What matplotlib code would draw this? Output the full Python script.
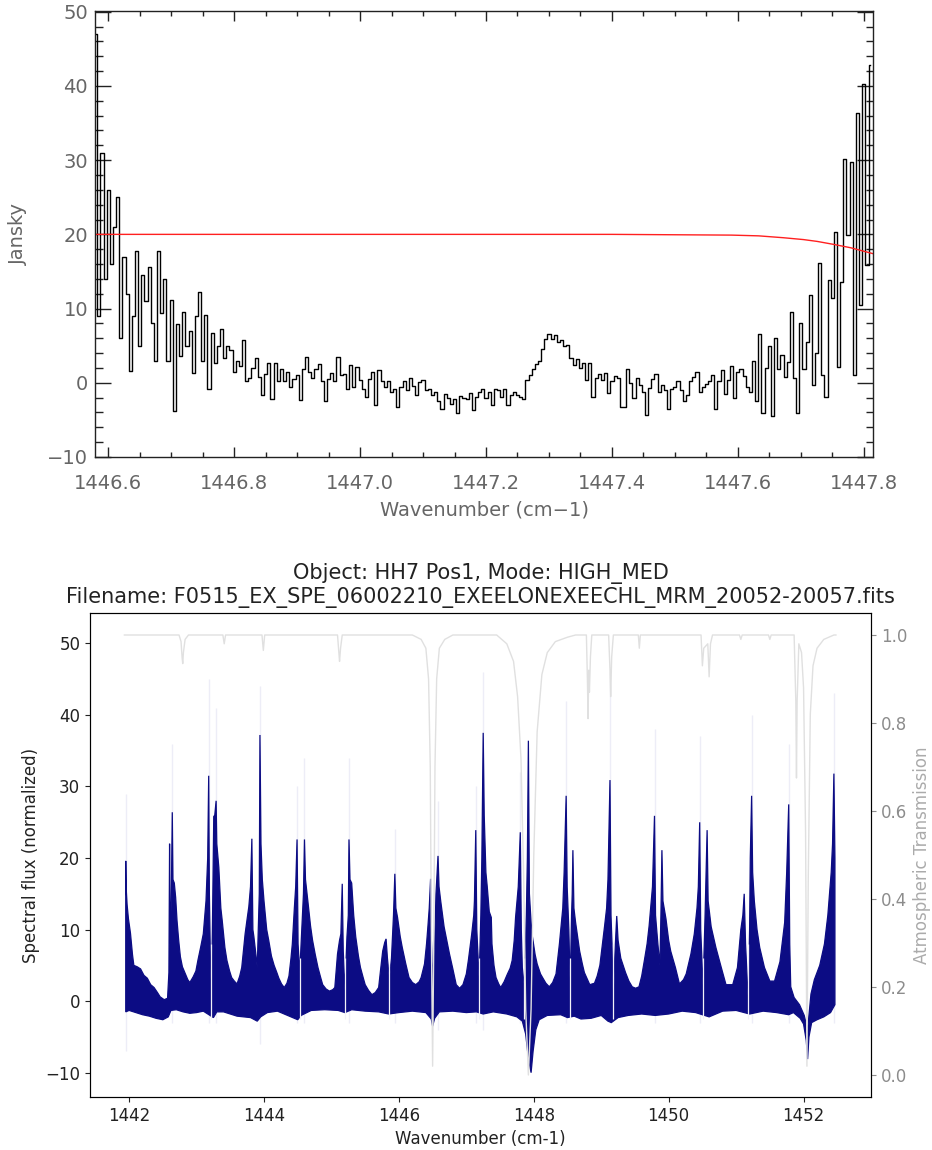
import numpy as np
import matplotlib
matplotlib.use("Agg")
import matplotlib.pyplot as plt
from matplotlib.ticker import MultipleLocator, FormatStrFormatter

# ---------------- upper panel: EXES spectrum (Jansky) ----------------
TOP_WN0 = 1446.580      # first channel (cm-1)
TOP_STEP = 0.005        # channel width (cm-1)
top_flux = [
    47, 9, 31, 14, 26, 16, 21, 25, 6, 17,
    12, 1.6, 9, 17.7, 5, 14.5, 11, 15.6, 8, 3,
    17.7, 9.4, 14, 3, 11.2, -3.8, 7.9, 3.6, 9.6, 5,
    7, 1.3, 9, 12.3, 3, 9.2, -0.9, 6.7, 2.6, 5,
    7.2, 3.3, 5.0, 4.4, 1.5, 3.0, 2.2, 5.7, 0.3, 0.6,
    2.0, 3.3, 0.8, -1.7, 1.2, 2.6, -2.2, 2.6, 0.3, 1.8,
    0.2, 1.4, -0.6, 0.5, 1.0, -2.3, 1.8, 3.5, 1.5, 0.6,
    1.9, 2.5, 0.2, -2.4, 0.5, 1.3, 0.2, 3.5, 1.0, 1.2,
    -0.8, 2.4, -0.5, 2.1, 0.4, -0.8, -1.9, 0.5, 1.5, -3.0,
    1.7, 0.3, -0.6, 0.2, -1.2, -0.8, -3.2, -0.6, 0.3, -1.0,
    0.6, -0.4, -1.7, 0.1, 0.4, -1.0, -0.9, -1.6, -1.2, -2.5,
    -3.5, -1.5, -2.0, -2.8, -2.2, -4.1, -1.8, -2.0, -2.2, -1.4,
    -3.7, -1.9, -1.2, -0.9, -2.0, -1.3, -3.0, -0.8, -1.0, -1.9,
    -0.9, -3.0, -1.7, -1.3, -1.6, -1.9, -2.2, 0.4, 1.1, 1.9,
    2.5, 3.0, 4.5, 5.9, 6.6, 5.9, 6.4, 5.5, 5.8, 4.9,
    5.1, 3.3, 2.4, 3.2, 2.0, 2.6, 0.4, 2.6, -1.9, 0.6,
    1.2, 0.4, 1.3, -1.4, 0.3, 0.9, 0.7, -3.2, -3.3, 1.9,
    0.0, -2.1, 0.6, -0.3, -1.2, -4.3, -0.7, 0.5, 1.2, -1.2,
    -0.3, -1.0, -3.5, -0.8, -0.5, 0.3, -1.0, -2.5, -1.6, 0.2,
    0.8, 1.5, -1.2, -0.6, -0.2, 0.3, 1.0, -3.5, 0.2, 1.7,
    -1.5, 0.4, 2.2, -2.0, 1.5, 1.9, 0.9, -0.5, -1.2, 2.9,
    -2.5, 6.6, -4.1, 2.0, 5.0, -4.5, 6.1, 1.9, 3.7, 0.8,
    2.8, 9.6, 0.7, -4.1, 8.0, 1.9, 5.5, 11.8, -0.3, 4.0,
    16.1, 1.0, -1.9, 13.9, 11.4, 20.3, 2.1, 13.6, 30.2, 19.9,
    29.8, 1.0, 36.3, 10.5, 40.3, 15.9, 42.8,
]

# continuum model (red curve)
model_wn = [1446.579, 1447.000, 1447.400, 1447.590, 1447.633, 1447.672,
            1447.704, 1447.726, 1447.752, 1447.779, 1447.8146]
model_flux = [20.0, 20.0, 20.0, 19.9, 19.8, 19.55, 19.3, 19.05, 18.65, 18.2, 17.4]

# ---------------- lower panel: normalized flux + transmission ----------------
# upper edge of the plotted flux band (cm-1, normalized flux)
band_top_wn = [
    1441.950, 1441.955, 1441.970, 1441.990, 1442.020, 1442.050, 1442.070, 1442.120,
    1442.170, 1442.220, 1442.270, 1442.320, 1442.370, 1442.420, 1442.460, 1442.520,
    1442.570, 1442.590, 1442.600, 1442.610, 1442.625, 1442.640, 1442.650, 1442.670,
    1442.690, 1442.710, 1442.735, 1442.760, 1442.790, 1442.830, 1442.870, 1442.900,
    1442.950, 1442.990, 1443.020, 1443.060, 1443.100, 1443.140, 1443.165, 1443.180,
    1443.190, 1443.205, 1443.220, 1443.235, 1443.255, 1443.270, 1443.290, 1443.300,
    1443.330, 1443.360, 1443.380, 1443.420, 1443.450, 1443.490, 1443.520, 1443.560,
    1443.600, 1443.640, 1443.670, 1443.700, 1443.720, 1443.750, 1443.775, 1443.800,
    1443.820, 1443.835, 1443.850, 1443.880, 1443.900, 1443.915, 1443.930, 1443.940,
    1443.955, 1443.975, 1444.000, 1444.040, 1444.070, 1444.110, 1444.150, 1444.190,
    1444.220, 1444.260, 1444.300, 1444.340, 1444.370, 1444.400, 1444.420, 1444.450,
    1444.470, 1444.490, 1444.505, 1444.530, 1444.560, 1444.585, 1444.600, 1444.615,
    1444.650, 1444.690, 1444.720, 1444.760, 1444.800, 1444.840, 1444.870, 1444.920,
    1444.970, 1445.020, 1445.050, 1445.090, 1445.120, 1445.140, 1445.160, 1445.175,
    1445.200, 1445.230, 1445.250, 1445.260, 1445.275, 1445.300, 1445.330, 1445.360,
    1445.400, 1445.430, 1445.470, 1445.500, 1445.550, 1445.600, 1445.650, 1445.700,
    1445.730, 1445.760, 1445.790, 1445.810, 1445.830, 1445.860, 1445.890, 1445.920,
    1445.940, 1445.955, 1445.980, 1446.020, 1446.050, 1446.100, 1446.150, 1446.200,
    1446.250, 1446.300, 1446.330, 1446.380, 1446.410, 1446.430, 1446.450, 1446.470,
    1446.480, 1446.500, 1446.530, 1446.550, 1446.580, 1446.595, 1446.620, 1446.670,
    1446.710, 1446.750, 1446.800, 1446.850, 1446.900, 1446.950, 1447.000, 1447.030,
    1447.080, 1447.110, 1447.120, 1447.140, 1447.155, 1447.190, 1447.215, 1447.230,
    1447.250, 1447.265, 1447.290, 1447.310, 1447.340, 1447.370, 1447.380, 1447.410,
    1447.440, 1447.480, 1447.510, 1447.560, 1447.610, 1447.650, 1447.680, 1447.710,
    1447.730, 1447.770, 1447.800, 1447.815, 1447.830, 1447.860, 1447.890, 1447.905,
    1447.920, 1447.935, 1447.960, 1447.980, 1448.020, 1448.050, 1448.100, 1448.130,
    1448.180, 1448.230, 1448.280, 1448.330, 1448.380, 1448.430, 1448.450, 1448.480,
    1448.495, 1448.520, 1448.540, 1448.560, 1448.570, 1448.580, 1448.595, 1448.620,
    1448.680, 1448.720, 1448.750, 1448.830, 1448.900, 1448.940, 1448.980, 1449.050,
    1449.080, 1449.100, 1449.130, 1449.145, 1449.160, 1449.180, 1449.200, 1449.210,
    1449.230, 1449.250, 1449.290, 1449.360, 1449.410, 1449.460, 1449.510, 1449.560,
    1449.600, 1449.640, 1449.680, 1449.710, 1449.760, 1449.790, 1449.805, 1449.840,
    1449.870, 1449.885, 1449.900, 1449.915, 1449.960, 1450.000, 1450.030, 1450.100,
    1450.160, 1450.220, 1450.260, 1450.330, 1450.380, 1450.420, 1450.440, 1450.460,
    1450.475, 1450.510, 1450.540, 1450.555, 1450.570, 1450.585, 1450.630, 1450.700,
    1450.780, 1450.850, 1450.950, 1451.020, 1451.070, 1451.100, 1451.120, 1451.140,
    1451.180, 1451.200, 1451.210, 1451.230, 1451.245, 1451.270, 1451.310, 1451.350,
    1451.420, 1451.500, 1451.570, 1451.650, 1451.720, 1451.750, 1451.780, 1451.795,
    1451.810, 1451.860, 1451.940, 1452.010, 1452.060, 1452.110, 1452.160, 1452.240,
    1452.310, 1452.360, 1452.410, 1452.430, 1452.450, 1452.465,
]
band_top = [
    19.6, 16, 13.5, 11.5, 9.5, 6.5, 5.0, 4.8,
    4.5, 3.6, 3.2, 2.3, 1.9, 1.2, 0.6, 0.2,
    0.4, 4, 22.0, 8, 14, 26.4, 17, 16.5,
    14.5, 11.3, 8.5, 6.2, 4.8, 3.9, 3.0, 2.6,
    3.4, 4.2, 5.7, 7.5, 9.4, 14, 20, 31.5,
    15, 6, 1.0, 10, 25.8, 26, 28, 22,
    18.7, 13, 11.3, 7.5, 5.7, 4.2, 3.3, 2.8,
    2.4, 3.5, 4.7, 7.5, 9.4, 11.5, 13.2, 16,
    22.7, 10, 9, 6.5, 4.7, 10, 15, 37.2,
    22, 17, 14, 10, 8.5, 6.3, 5, 4,
    3.2, 2.4, 1.9, 2.5, 3.5, 6, 8, 13,
    16, 22.6, 8, 4, 10, 15, 22.6, 17,
    14, 10.5, 8.5, 6.5, 4.7, 3.3, 2.3, 1.7,
    1.4, 1.6, 1.9, 6.6, 8.5, 9.4, 16.4, 7,
    1.5, 9, 12, 22.6, 17, 16.5, 12, 9,
    6.3, 4.7, 3.3, 2.3, 1.5, 0.9, 1.2, 1.9,
    4.5, 7, 8.2, 8.7, 6, 3, 6, 12,
    17.8, 13, 11.7, 9, 7.5, 5.3, 3.3, 2.6,
    2.3, 2.7, 3.3, 5.2, 8, 10.4, 13, 17.1,
    9, 3, 8, 15, 20.3, 16, 14, 10.4,
    8.5, 6.6, 4.5, 2.3, 1.8, 2.3, 3.8, 5.7,
    9.4, 12, 14, 23.9, 10, 3, 12, 20,
    37.5, 26, 18, 16, 12.5, 11.7, 8, 5,
    3.3, 2.4, 1.9, 2.7, 3.8, 4.6, 5.7, 8.5,
    11.7, 16, 23.6, 10, 4.7, 2, 12, 20,
    36.4, 15, 11, 9, 6.5, 5.2, 3.8, 3.3,
    2.5, 2.0, 2.6, 3.8, 8, 13, 18, 28.7,
    16, 10, 2, 12, 15, 21.1, 13, 11,
    7, 5.2, 4, 2.3, 2.5, 3.5, 5, 10.5,
    13, 17, 30.9, 12, 8, -1, 6, 8,
    11.9, 8.5, 6, 4, 2.8, 2, 1.8, 2,
    3.5, 5.7, 8, 10.5, 16, 25.9, 12, 8,
    5, 12, 21.1, 14, 11.5, 8.5, 7, 4.7,
    2.4, 3, 3.8, 6.6, 9.4, 13, 16, 25.0,
    10, 2, 12, 18, 23.9, 14, 10.4, 7.5,
    4.7, 2.3, 2.3, 4.7, 10, 12, 15.0, 8,
    0, 10, 20, 28.7, 18, 14, 10, 7.5,
    4.7, 2.8, 2.8, 5.5, 11, 18, 27.5, 8,
    2, 0.5, -0.5, -2, -4, 1, 3, 5,
    8, 12, 18, 22, 31.8, 20,
]

# lower edge of the plotted flux band
band_bot_wn = [
    1441.950, 1442.000, 1442.100, 1442.200, 1442.300, 1442.400, 1442.500, 1442.580,
    1442.620, 1442.700, 1442.800, 1442.900, 1443.000, 1443.100, 1443.200, 1443.250,
    1443.300, 1443.400, 1443.500, 1443.600, 1443.700, 1443.800, 1443.900, 1443.950,
    1444.050, 1444.200, 1444.300, 1444.400, 1444.500, 1444.550, 1444.700, 1444.900,
    1445.100, 1445.200, 1445.300, 1445.500, 1445.700, 1445.850, 1446.000, 1446.200,
    1446.400, 1446.480, 1446.500, 1446.530, 1446.600, 1446.800, 1447.000, 1447.150,
    1447.250, 1447.400, 1447.600, 1447.750, 1447.830, 1447.880, 1447.920, 1447.960,
    1447.990, 1448.030, 1448.080, 1448.200, 1448.400, 1448.500, 1448.600, 1448.700,
    1448.850, 1449.000, 1449.100, 1449.150, 1449.250, 1449.400, 1449.600, 1449.800,
    1450.000, 1450.200, 1450.400, 1450.600, 1450.800, 1451.000, 1451.200, 1451.400,
    1451.600, 1451.780, 1451.850, 1451.950, 1452.000, 1452.040, 1452.060, 1452.080,
    1452.120, 1452.200, 1452.300, 1452.400, 1452.465,
]
band_bot = [
    -1.5, -1.3, -1.6, -1.9, -2.1, -2.4, -2.6, -2.2,
    -1.3, -1.2, -1.5, -1.7, -1.6, -1.4, -2.0, -2.3,
    -1.5, -1.5, -1.8, -2.1, -2.2, -2.3, -2.8, -2.2,
    -1.6, -1.4, -1.8, -2.2, -2.6, -2.0, -1.3, -1.2,
    -1.3, -1.6, -1.2, -1.4, -1.5, -1.8, -1.6, -1.4,
    -1.6, -2.5, -3.5, -2.4, -1.5, -1.4, -1.6, -1.5,
    -1.8, -1.5, -1.8, -2.2, -2.8, -4.6, -8.0, -10.0,
    -7.0, -4.0, -2.6, -2.0, -1.9, -2.3, -2.1, -2.5,
    -2.4, -2.0, -2.8, -3.0, -2.3, -2.0, -1.8, -2.0,
    -1.8, -1.4, -1.6, -2.2, -1.4, -1.3, -1.8, -1.4,
    -1.6, -1.9, -1.6, -2.4, -3.2, -5.5, -8.1, -5.0,
    -3.0, -2.6, -2.2, -1.6, -0.5,
]

# channels masked in the flux band
gap_wn = [1443.22, 1444.53, 1445.20, 1445.86, 1447.19, 1447.86, 1448.54,
          1449.18, 1450.51, 1451.18]
gap_hi = [8, 6, 6, 5, 6, 6, 6, 8, 6, 8]

# unmasked extremes around the line cores (faint trace)
faint_wn = [1441.95, 1442.64, 1443.18, 1443.29, 1443.94, 1444.49, 1444.60,
            1445.26, 1445.94, 1446.58, 1447.14, 1447.25, 1447.80, 1448.48,
            1449.13, 1449.79, 1450.46, 1451.23, 1451.78, 1452.45]
faint_hi = [29, 36, 45, 41, 44, 30, 34, 34, 24, 28, 30, 46, 32, 42, 46, 38, 37, 40, 36, 43]
faint_lo = [-7, -3, -3, -3, -6, -3, -3, -3, -3, -4, -3, -4, -3, -3, -3, -3, -3, -3, -3, -3]

# atmospheric transmission model
trans_wn = [
    1441.93, 1442.74, 1442.77, 1442.785, 1442.795, 1442.805, 1442.83, 1442.88,
    1443.39, 1443.41, 1443.43, 1443.97, 1443.99, 1444.01, 1445.09, 1445.11,
    1445.12, 1445.135, 1445.16, 1446.20, 1446.33, 1446.40, 1446.44, 1446.465,
    1446.48, 1446.50, 1446.52, 1446.535, 1446.56, 1446.60, 1446.68, 1446.80,
    1447.45, 1447.60, 1447.70, 1447.76, 1447.81, 1447.85, 1447.88, 1447.92,
    1447.96, 1448.00, 1448.05, 1448.12, 1448.20, 1448.32, 1448.50, 1448.62,
    1448.78, 1448.795, 1448.805, 1448.815, 1448.825, 1448.84, 1448.86, 1449.11,
    1449.13, 1449.14, 1449.155, 1449.18, 1449.55, 1449.565, 1449.58, 1450.48,
    1450.50, 1450.52, 1450.58, 1450.60, 1450.62, 1450.65, 1451.05, 1451.07,
    1451.09, 1451.48, 1451.50, 1451.52, 1451.86, 1451.885, 1451.895, 1451.905,
    1451.93, 1451.97, 1452.00, 1452.03, 1452.05, 1452.07, 1452.10, 1452.14,
    1452.20, 1452.30, 1452.45, 1452.48,
]
trans_val = [
    1.0, 1.0, 0.985, 0.95, 0.935, 0.96, 0.99, 1.0,
    1.0, 0.98, 1.0, 1.0, 0.965, 1.0, 1.0, 0.96,
    0.94, 0.97, 1.0, 1.0, 0.99, 0.97, 0.90, 0.70,
    0.35, 0.02, 0.35, 0.70, 0.90, 0.97, 0.99, 1.0,
    1.0, 0.98, 0.94, 0.86, 0.72, 0.45, 0.15, 0.0,
    0.15, 0.50, 0.78, 0.91, 0.96, 0.985, 0.995, 1.0,
    1.0, 0.90, 0.81, 0.92, 0.87, 0.95, 1.0, 1.0,
    0.92, 0.86, 0.95, 1.0, 1.0, 0.97, 1.0, 1.0,
    0.93, 0.97, 0.98, 0.905, 0.98, 1.0, 1.0, 0.99,
    1.0, 1.0, 0.99, 1.0, 1.0, 0.85, 0.675, 0.85,
    0.98, 0.96, 0.88, 0.55, 0.02, 0.45, 0.82, 0.93,
    0.97, 0.99, 1.0, 1.0,
]

title_lines = ["Object: HH7 Pos1, Mode: HIGH_MED",
               "Filename: F0515_EX_SPE_06002210_EXEELONEXEECHL_MRM_20052-20057.fits"]

# ---------------------------------------------------------------------------
W, H = 932, 1150
fig = plt.figure(figsize=(W / 100, H / 100), dpi=100)
plt.rcParams['font.family'] = ['DejaVu Sans']

# ---- upper panel ----
ax1 = fig.add_axes([95 / W, 1 - 457 / H, 778 / W, 446 / H])
x_top = TOP_WN0 + TOP_STEP * np.arange(len(top_flux))
ax1.plot(x_top, top_flux, drawstyle='steps-mid', color='black', lw=1.0)
ax1.plot(model_wn, model_flux, color='#ff2020', lw=1.0)
ax1.set_xlim(1446.579, 1447.8146)
ax1.set_ylim(-10, 50.1)
ax1.xaxis.set_major_locator(MultipleLocator(0.2))
ax1.xaxis.set_minor_locator(MultipleLocator(0.05))
ax1.xaxis.set_major_formatter(FormatStrFormatter('%.1f'))
ax1.yaxis.set_major_locator(MultipleLocator(10))
ax1.yaxis.set_minor_locator(MultipleLocator(2))
ax1.tick_params(which='both', direction='in', top=True, right=True,
                color='#222222', labelcolor='#666666', labelsize=14, width=1.0)
ax1.tick_params(axis='x', which='major', length=7.2, pad=12)
ax1.tick_params(axis='x', which='minor', length=3.6)
ax1.tick_params(axis='y', which='major', length=11.5, pad=5)
ax1.tick_params(axis='y', which='minor', length=5.4)
for s in ax1.spines.values():
    s.set_color('#222222')
    s.set_linewidth(1.0)
ax1.set_xlabel('Wavenumber (cm\u22121)', fontsize=14, color='#666666', labelpad=6)
ax1.set_ylabel('Jansky', fontsize=14, color='#666666', labelpad=14)

# ---- lower panel ----
NAVY = '#0c0c84'
ax2 = fig.add_axes([90 / W, 1 - 1097 / H, 781 / W, 484 / H])
ax2.vlines(faint_wn, faint_lo, faint_hi, color='#ededf7', lw=1.0, zorder=1)
poly_x = np.concatenate([band_top_wn, band_bot_wn[::-1]])
poly_y = np.concatenate([band_top, band_bot[::-1]])
ax2.fill(poly_x, poly_y, facecolor=NAVY, edgecolor=NAVY, lw=0.9, zorder=2)
ax2.vlines(gap_wn, -2.5, gap_hi, color='#f2f2f8', lw=0.9, zorder=3)
ax2.set_xlim(1441.42, 1453.0)
ax2.set_ylim(-13.4, 54.25)
ax2.set_xticks([1442, 1444, 1446, 1448, 1450, 1452])
ax2.set_yticks([-10, 0, 10, 20, 30, 40, 50])
ax2.tick_params(labelsize=12, colors='#222222')
ax2.set_xlabel('Wavenumber (cm-1)', fontsize=12, color='#222222')
ax2.set_ylabel('Spectral flux (normalized)', fontsize=12, color='#222222')
ax2.set_title('\n'.join(title_lines), fontsize=15, color='#222222', pad=7)
for s in ax2.spines.values():
    s.set_color('#333333')

ax3 = ax2.twinx()
ax3.plot(trans_wn, trans_val, color='#e0e0e0', lw=1.0)
ax3.set_ylim(-0.05, 1.05)
ax3.set_yticks([0.0, 0.2, 0.4, 0.6, 0.8, 1.0])
ax3.tick_params(axis='y', labelsize=12, colors='#8c8c8c')
ax3.set_ylabel('Atmospheric Transmission', fontsize=12, color='#ababab')

fig.savefig('out.png', dpi=100)
